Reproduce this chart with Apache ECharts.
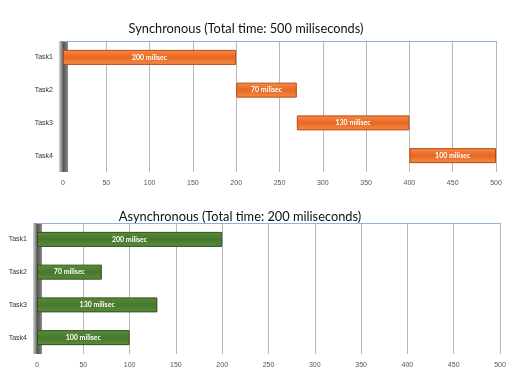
<!DOCTYPE html>
<html><head><meta charset="utf-8">
<script src="https://cdn.jsdelivr.net/npm/echarts@6/dist/echarts.min.js"></script>
<style>html,body{margin:0;padding:0;background:#fff}#c{width:531px;height:387px}</style>
</head><body><div id="c"></div>
<script>
const categories = ['Task1', 'Task2', 'Task3', 'Task4'];
const syncStart = [0, 200, 270, 400];
const syncDuration = [200, 70, 130, 100];
const asyncStart = [0, 0, 0, 0];
const asyncDuration = [200, 70, 130, 100];
const xTicks = [0, 50, 100, 150, 200, 250, 300, 350, 400, 450, 500];
const titles = ['Synchronous (Total time: 500 miliseconds)', 'Asynchronous (Total time: 200 miliseconds)'];

const chart = echarts.init(document.getElementById('c'));
const grids = [
  {left: 63, right: 35, top: 41, height: 131},
  {left: 37, right: 31, top: 223, height: 131}
];
function barColor(c1, c2) {
  return new echarts.graphic.LinearGradient(0, 0, 0, 1, [
    {offset: 0, color: c1}, {offset: 0.5, color: c2}, {offset: 1, color: c1}
  ]);
}
const xAxes = grids.map((g, i) => ({
  type: 'value', gridIndex: i, min: xTicks[0], max: xTicks[xTicks.length - 1], interval: 50,
  axisLine: {show: false}, axisTick: {show: false},
  axisLabel: {fontSize: 7, color: '#555', margin: 8, fontFamily: 'Liberation Sans'},
  splitLine: {show: true, lineStyle: {color: '#b8b8b8', width: 1}}
}));
const yAxes = grids.map((g, i) => ({
  type: 'category', gridIndex: i, data: categories, inverse: true,
  axisLine: {show: true, lineStyle: {cap: 'butt', color: new echarts.graphic.LinearGradient(0,0,1,0,[{offset:0,color:'#d5d5d5'},{offset:0.5,color:'#555'},{offset:1,color:'#8a8a8a'}]), width: 9}},
  axisTick: {show: false},
  axisLabel: {fontSize: 7, color: '#333', margin: 10, fontFamily: 'Liberation Sans'}
}));
grids.forEach((g, i) => {
  xAxes.push({type: 'value', gridIndex: i, position: 'top', min: 0, max: 500,
    axisLine: {show: true, lineStyle: {color: '#8fb2e0', width: 1}},
    axisTick: {show: false}, axisLabel: {show: false}, splitLine: {show: false}});
});
function labelFmt(p) { return p.value + ' milisec'; }
const series = [];
[[syncStart, syncDuration, '#f58b4c', '#e8671f', '#b54a12'], [asyncStart, asyncDuration, '#5b8c3c', '#47772b', '#2f5219']].forEach((d, i) => {
  series.push({type: 'bar', xAxisIndex: i, yAxisIndex: i, stack: 's' + i, data: d[0], barWidth: 15,
    itemStyle: {color: 'transparent'}, silent: true});
  series.push({type: 'bar', xAxisIndex: i, yAxisIndex: i, stack: 's' + i, data: d[1], barWidth: 15,
    itemStyle: {color: barColor(d[2], d[3]), borderColor: d[4], borderWidth: 1},
    label: {show: true, position: 'inside', color: '#fff', fontSize: 7, fontWeight: 'bold', fontFamily: 'Lato', formatter: labelFmt}});
});
chart.setOption({
  animation: false,
  title: [
    {text: titles[0], left: 241, top: 17, textAlign: 'center', textStyle: {fontSize: 12.8, fontWeight: 'normal', color: '#111', fontFamily: 'Lato'}},
    {text: titles[1], left: 235, top: 205, textAlign: 'center', textStyle: {fontSize: 12.8, fontWeight: 'normal', color: '#111', fontFamily: 'Lato'}}
  ],
  grid: grids,
  xAxis: xAxes,
  yAxis: yAxes,
  series: series
});
</script></body></html>
